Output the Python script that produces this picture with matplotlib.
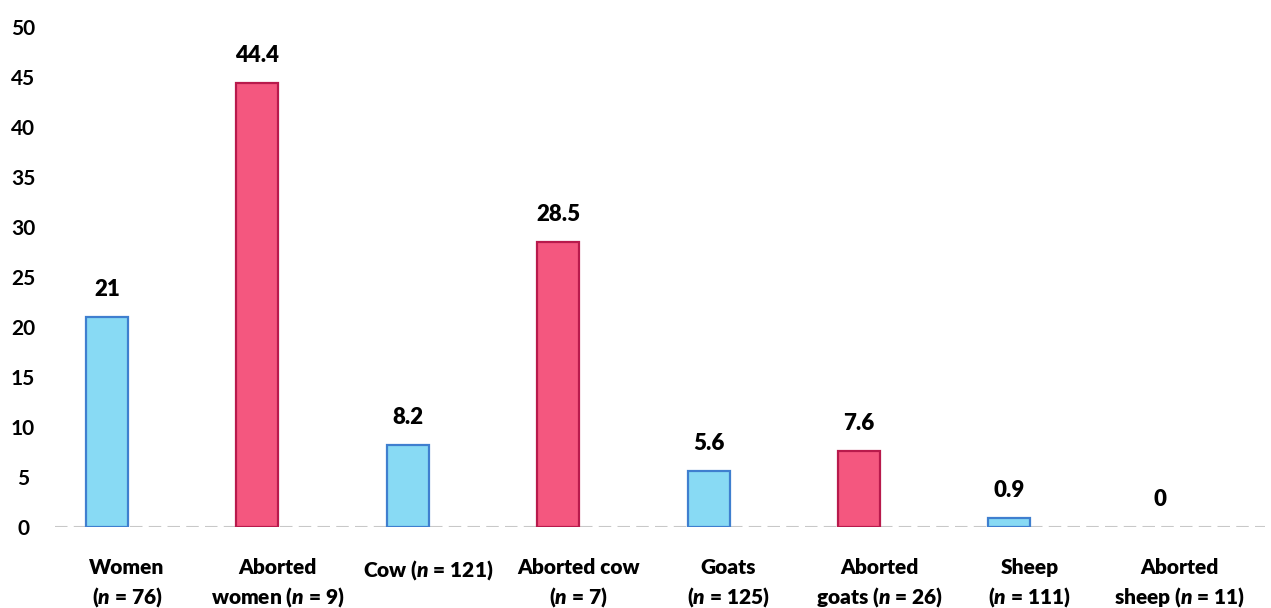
import matplotlib
matplotlib.use("Agg")
import matplotlib.pyplot as plt
from matplotlib.transforms import ScaledTranslation

plt.rcParams['font.family'] = ['Lato', 'DejaVu Sans']
plt.rcParams['mathtext.fontset'] = 'custom'
plt.rcParams['mathtext.it'] = 'Lato:italic:heavy'
plt.rcParams['mathtext.rm'] = 'Lato:heavy'

categories = ["Women\n($\\it{n}$ = 76)", "Aborted\nwomen ($\\it{n}$ = 9)", "Cow ($\\it{n}$ = 121)",
              "Aborted cow\n($\\it{n}$ = 7)", "Goats\n($\\it{n}$ = 125)", "Aborted\ngoats ($\\it{n}$ = 26)",
              "Sheep\n($\\it{n}$ = 111)", "Aborted\nsheep ($\\it{n}$ = 11)"]
values = [21, 44.4, 8.2, 28.5, 5.6, 7.6, 0.9, 0]
value_labels = ["21", "44.4", "8.2", "28.5", "5.6", "7.6", "0.9", "0"]
aborted = [False, True, False, True, False, True, False, True]
yticks = [0, 5, 10, 15, 20, 25, 30, 35, 40, 45, 50]

blue_fill, blue_edge = "#88daf4", "#3f7fcf"
pink_fill, pink_edge = "#f4577f", "#b81a4c"

fig = plt.figure(figsize=(12.71, 6.08), dpi=100)
ax = fig.add_axes([55/1271, 81/608, 1210/1271, 500/608])

x = list(range(len(values)))
fills = [pink_fill if a else blue_fill for a in aborted]
edges = [pink_edge if a else blue_edge for a in aborted]
lws = [1.6 if v > 0 else 0 for v in values]
ax.bar(x, values, width=0.28, color=fills, edgecolor=edges, linewidth=lws, zorder=3)

for xi, v, lab in zip(x, values, value_labels):
    ax.annotate(lab, (xi, v), xytext=(0, 12), textcoords='offset points',
                ha='center', va='bottom', fontsize=16, fontweight='heavy', color='black')

ax.axhline(0, color='#c8c8c8', linewidth=1.5, linestyle=(0, (6, 3)), zorder=2)

ax.set_xlim(-52/150.4, (1265-107)/150.4)
ax.set_ylim(0, 50)
ax.set_yticks(yticks)
ax.set_yticklabels([str(t) for t in yticks], fontsize=15, fontweight='bold')
for t in ax.get_yticklabels():
    t.set_ha('center')
ax.tick_params(axis='y', length=0, pad=23)
ax.set_xticks(x)
ax.set_xticklabels(categories, fontsize=15, fontweight='heavy', linespacing=1.45, va='top')
ax.tick_params(axis='x', length=0, pad=22)
shift = ScaledTranslation(20/100, 0, fig.dpi_scale_trans)
for t in ax.get_xticklabels():
    t.set_transform(t.get_transform() + shift)
for s in ax.spines.values():
    s.set_visible(False)

fig.savefig("out.png", dpi=100)
